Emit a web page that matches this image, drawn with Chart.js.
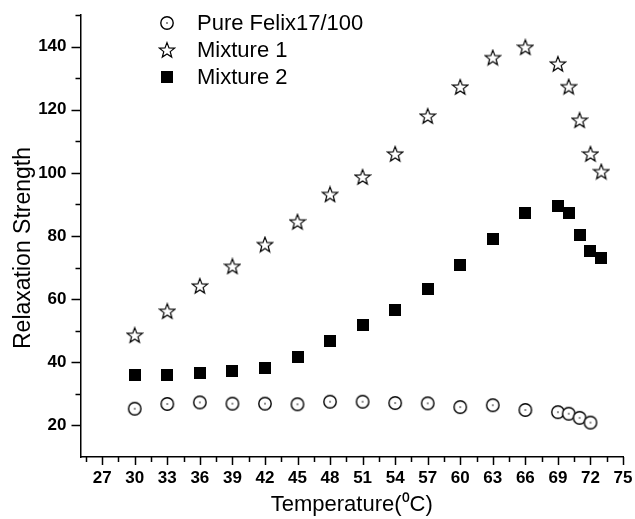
<!DOCTYPE html>
<html>
<head>
<meta charset="utf-8">
<script src="https://cdn.jsdelivr.net/npm/chart.js@4.4.1/dist/chart.umd.min.js"></script>
<style>
  html, body { margin: 0; padding: 0; background: #fff; }
  #wrap { width: 635px; height: 519px; }
</style>
</head>
<body>
<div id="wrap"><canvas id="relaxChart" width="635" height="519"></canvas></div>
<script>
// temperatures (°C)
const tempsPure = [30, 33, 36, 39, 42, 45, 48, 51, 54, 57, 60, 63, 66, 69, 70, 71, 72];
const tempsMix = [30, 33, 36, 39, 42, 45, 48, 51, 54, 57, 60, 63, 66, 69, 70, 71, 72, 73];

// relaxation strength
const pureFelix = [25.3, 26.8, 27.3, 26.9, 26.9, 26.7, 27.5, 27.5, 27.1, 27.0, 25.8, 26.4, 24.9, 24.2, 23.7, 22.4, 20.9];
const mixture1 = [48.6, 56.2, 64.2, 70.4, 77.3, 84.5, 93.2, 98.7, 106.0, 118.0, 127.2, 136.5, 139.8, 134.5, 127.3, 116.7, 106.0, 100.4];
const mixture2 = [35.9, 36.1, 36.7, 37.3, 38.3, 41.8, 46.8, 51.8, 56.6, 63.1, 70.9, 79.1, 87.2, 89.6, 87.2, 80.4, 75.3, 72.9];

const seriesNames = ["Pure Felix17/100", "Mixture 1", "Mixture 2"];

// tick labels
const xTicks = [27, 30, 33, 36, 39, 42, 45, 48, 51, 54, 57, 60, 63, 66, 69, 72, 75];
const yTicks = [20, 40, 60, 80, 100, 120, 140];
const xMinor = [25.5, 28.5, 31.5, 34.5, 37.5, 40.5, 43.5, 46.5, 49.5, 52.5, 55.5, 58.5, 61.5, 64.5, 67.5, 70.5, 73.5];
const yMinor = [30, 50, 70, 90, 110, 130, 150];

const FONT = 'Arial, "Liberation Sans", sans-serif';
Chart.defaults.font.family = FONT;
Chart.defaults.color = "#000";

function toPoints(xs, ys) {
  return xs.map((x, i) => ({ x: x, y: ys[i] }));
}

// open circle with a dot in the middle
function makeCircle() {
  const c = document.createElement("canvas");
  c.width = 16; c.height = 16;
  const g = c.getContext("2d");
  g.fillStyle = "#fff";
  g.strokeStyle = "#000";
  g.lineWidth = 1.4;
  g.beginPath();
  g.arc(8, 8, 6.2, 0, Math.PI * 2);
  g.fill();
  g.stroke();
  g.fillStyle = "#000";
  g.beginPath();
  g.arc(8, 8, 0.8, 0, Math.PI * 2);
  g.fill();
  return c;
}

// open five point star
function makeStar() {
  const c = document.createElement("canvas");
  c.width = 18; c.height = 18;
  const g = c.getContext("2d");
  const R = 8, r = 3.4;
  g.beginPath();
  for (let i = 0; i < 10; i++) {
    const rad = i % 2 === 0 ? R : r;
    const a = -Math.PI / 2 + i * Math.PI / 5;
    const px = 9 + rad * Math.cos(a);
    const py = 9.6 + rad * Math.sin(a);
    if (i === 0) g.moveTo(px, py); else g.lineTo(px, py);
  }
  g.closePath();
  g.fillStyle = "#fff";
  g.fill();
  g.strokeStyle = "#000";
  g.lineWidth = 1.2;
  g.stroke();
  return c;
}

function makeSquare() {
  const c = document.createElement("canvas");
  c.width = 12; c.height = 12;
  const g = c.getContext("2d");
  g.fillStyle = "#000";
  g.fillRect(0, 0, 12, 12);
  return c;
}

const circleImg = makeCircle();
const starImg = makeStar();
const squareImg = makeSquare();

// minor + major tick marks, and the y title
const tickMarks = {
  id: "tickMarks",
  afterDraw(chart) {
    const ctx = chart.ctx;
    const xs = chart.scales.x, ys = chart.scales.y;
    const area = chart.chartArea;
    ctx.save();
    ctx.strokeStyle = "#000";
    ctx.lineWidth = 1.5;
    ctx.beginPath();
    xTicks.forEach((v) => {
      const px = Math.round(xs.getPixelForValue(v)) + 0.5;
      ctx.moveTo(px, area.bottom);
      ctx.lineTo(px, area.bottom + 8);
    });
    xMinor.forEach((v) => {
      const px = Math.round(xs.getPixelForValue(v)) + 0.5;
      ctx.moveTo(px, area.bottom);
      ctx.lineTo(px, area.bottom + 5);
    });
    yTicks.forEach((v) => {
      const py = Math.round(ys.getPixelForValue(v)) + 0.5;
      ctx.moveTo(area.left, py);
      ctx.lineTo(area.left - 9, py);
    });
    yMinor.forEach((v) => {
      const py = Math.round(ys.getPixelForValue(v)) + 0.5;
      ctx.moveTo(area.left, py);
      ctx.lineTo(area.left - 5, py);
    });
    ctx.stroke();

    // y axis title
    ctx.translate(24, 248);
    ctx.rotate(-Math.PI / 2);
    ctx.font = "23px " + FONT;
    ctx.fillStyle = "#000";
    ctx.textAlign = "center";
    ctx.textBaseline = "middle";
    ctx.fillText("Relaxation Strength", 0, 0);
    ctx.restore();
  }
};

// legend in the upper left corner of the plot
const cornerLegend = {
  id: "cornerLegend",
  afterDraw(chart) {
    const ctx = chart.ctx;
    const rows = [22.5, 49.5, 76.5];
    ctx.save();
    ctx.font = "22px " + FONT;
    ctx.fillStyle = "#000";
    ctx.textBaseline = "middle";
    chart.data.datasets.forEach((ds, i) => {
      const img = ds.pointStyle;
      ctx.drawImage(img, Math.round(167 - img.width / 2), Math.round(rows[i] - img.height / 2));
      ctx.fillText(ds.label, 197, rows[i] + 1);
    });
    ctx.restore();
  }
};

const ctx = document.getElementById("relaxChart").getContext("2d");

new Chart(ctx, {
  type: "scatter",
  data: {
    datasets: [
      { label: seriesNames[0], data: toPoints(tempsPure, pureFelix), pointStyle: circleImg, pointRadius: 7 },
      { label: seriesNames[1], data: toPoints(tempsMix, mixture1), pointStyle: starImg, pointRadius: 8 },
      { label: seriesNames[2], data: toPoints(tempsMix, mixture2), pointStyle: squareImg, pointRadius: 7 }
    ]
  },
  options: {
    responsive: false,
    animation: false,
    layout: { padding: { top: 15, right: 12, left: 0, bottom: 0 } },
    plugins: {
      legend: { display: false },
      tooltip: { enabled: false }
    },
    scales: {
      x: {
        type: "linear",
        min: 25,
        max: 75,
        afterBuildTicks: (axis) => { axis.ticks = xTicks.map((v) => ({ value: v })); },
        afterFit: (axis) => {
          axis.height = 62;
          axis.paddingLeft = 0; axis.paddingRight = 0;
          axis.paddingTop = 0; axis.paddingBottom = 0;
        },
        grid: { display: false, drawTicks: false },
        border: { display: true, color: "#000", width: 1.5 },
        ticks: {
          autoSkip: false,
          maxRotation: 0,
          padding: 11,
          color: "#000",
          font: { size: 17, weight: "bold" }
        },
        title: {
          display: true,
          text: "Temperature(\u2070C)",
          color: "#000",
          font: { size: 22 },
          padding: { top: 0, bottom: 1 }
        }
      },
      y: {
        min: 10,
        max: 150,
        afterBuildTicks: (axis) => { axis.ticks = yTicks.map((v) => ({ value: v })); },
        afterFit: (axis) => {
          axis.width = 80.5;
          axis.paddingLeft = 0; axis.paddingRight = 0;
          axis.paddingTop = 0; axis.paddingBottom = 0;
        },
        grid: { display: false, drawTicks: false },
        border: { display: true, color: "#000", width: 1.5 },
        ticks: {
          padding: 14,
          color: "#000",
          font: { size: 17, weight: "bold" }
        },
        title: { display: false }
      }
    }
  },
  plugins: [tickMarks, cornerLegend]
});
</script>
</body>
</html>
